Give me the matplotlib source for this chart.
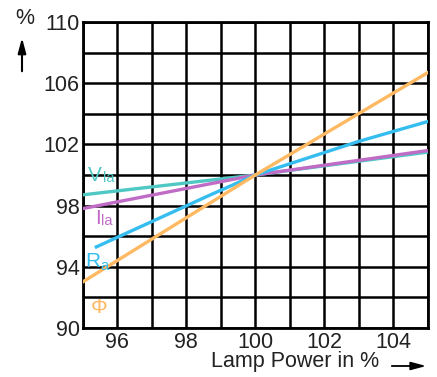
import matplotlib
matplotlib.use("Agg")
import matplotlib.pyplot as plt
import matplotlib.patches as mpatches

plt.rcParams['font.family'] = ['Liberation Sans', 'DejaVu Sans']

# Data
phi_x = [95, 100, 105]
phi_y = [93.0, 100, 106.7]
ra_x = [95.4, 98.7, 100, 103, 105]
ra_y = [95.3, 98.7, 100, 102.2, 103.5]
vla_x = [95, 100, 105]
vla_y = [98.7, 100, 101.5]
ila_x = [95, 100, 105]
ila_y = [97.8, 100, 101.6]

xticks = [95, 96, 97, 98, 99, 100, 101, 102, 103, 104, 105]
xlabels = ['', '96', '', '98', '', '100', '', '102', '', '104', '']
yticks = [90, 92, 94, 96, 98, 100, 102, 104, 106, 108, 110]
ylabels = ['90', '', '94', '', '98', '', '102', '', '106', '', '110']

C_PHI = '#FFB962'
C_RA = '#36BDF0'
C_VLA = '#4FC8C4'
C_ILA = '#C06CC6'

W, H = 437, 377
fig = plt.figure(figsize=(W / 100, H / 100), dpi=100)
L, R, T, B = 82.5, 428, 22, 328
ax = fig.add_axes([L / W, 1 - B / H, (R - L) / W, (B - T) / H])
ax.set_xlim(95, 105)
ax.set_ylim(90, 110)
ax.set_xticks(xticks)
ax.set_xticklabels(xlabels)
ax.set_yticks(yticks)
ax.set_yticklabels(ylabels)
ax.grid(True, color='black', linewidth=1.8)
ax.set_axisbelow(True)
for s in ax.spines.values():
    s.set_linewidth(2)
ax.tick_params(axis='both', length=0, labelsize=15.5, pad=3, labelcolor='#222222')
ax.tick_params(axis='y', pad=2)
for lbl in ax.get_xticklabels():
    lbl.set_x(lbl.get_position()[0])

lw = 2.4
ax.plot(vla_x, vla_y, color=C_VLA, lw=lw, zorder=3)
ax.plot(ila_x, ila_y, color=C_ILA, lw=lw, zorder=3)
ax.plot(ra_x, ra_y, color=C_RA, lw=lw, zorder=4)
ax.plot(phi_x, phi_y, color=C_PHI, lw=lw, zorder=5)

renderer = fig.canvas.get_renderer()

def lab(x, y, main, sub, color, sub_drop=1):
    t = ax.text(x, y, main, color=color, fontsize=15, va='baseline', ha='left', zorder=6)
    if sub:
        wpx = t.get_window_extent(renderer).width
        ax.annotate(sub, xy=(x, y), xycoords='data', xytext=(wpx + 0.5, -sub_drop),
                    textcoords='offset pixels', color=color, fontsize=10.5,
                    va='baseline', ha='left', zorder=6)

lab(95.17, 99.6, 'V', 'la', C_VLA, 1)
lab(95.36, 96.8, 'I', 'la', C_ILA, 1)
lab(95.07, 94.0, 'R', 'a', C_RA, 3)
lab(95.24, 91.0, 'Φ', '', C_PHI)

# Axis annotations
fig.text(25 / W, 1 - 18 / H, '%', fontsize=15.5, ha='center', va='center', color='#222222')
fig.add_artist(mpatches.FancyArrowPatch(
    (22 / W, 1 - 74 / H), (22 / W, 1 - 35 / H), transform=fig.transFigure,
    arrowstyle='-|>,head_length=0.45,head_width=0.12', lw=1.5, color='black', mutation_scale=20))
fig.text(295 / W, 1 - 362 / H, 'Lamp Power in %', fontsize=15.5, ha='center', va='center', color='#222222')
fig.add_artist(mpatches.FancyArrowPatch(
    (389 / W, 1 - 366 / H), (429 / W, 1 - 366 / H), transform=fig.transFigure,
    arrowstyle='-|>,head_length=0.45,head_width=0.12', lw=1.3, color='black', mutation_scale=20))

fig.savefig('out.png', dpi=100)
